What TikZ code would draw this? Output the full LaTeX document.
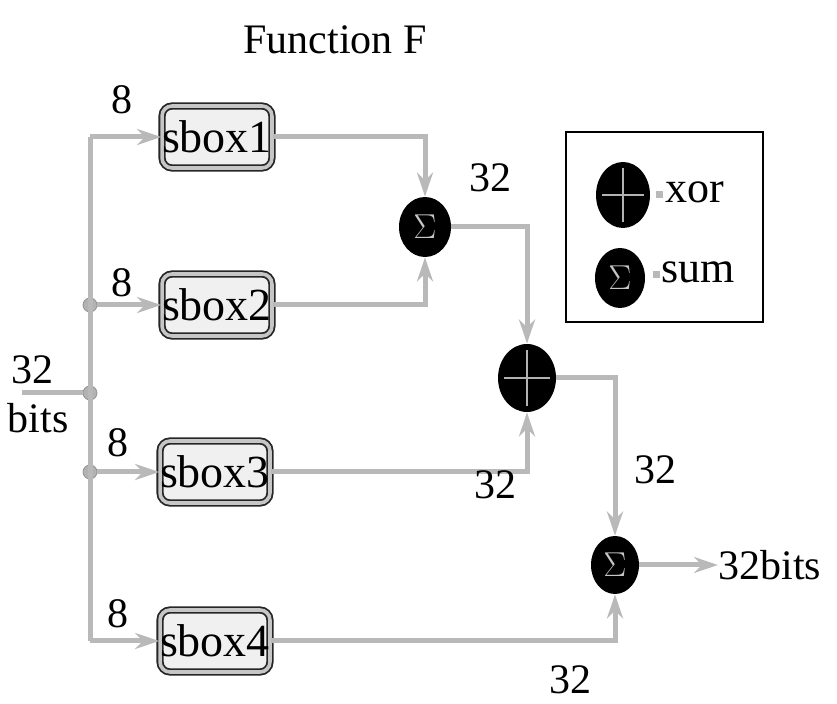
\documentclass[tikz,border=0pt]{standalone}
\usepackage{fontspec}
\setmainfont{Liberation Serif}
\usetikzlibrary{arrows.meta, positioning, shapes.geometric}

\begin{document}
\begin{tikzpicture}[
    x=0.5pt, y=-0.5pt,
    every node/.style={font=\fontsize{21}{25}\selectfont, inner sep=0pt},
    box/.style={draw=black!85, double=gray!45, double distance=1.8pt, line width=0.9pt, rounded corners=5pt, fill=gray!12, minimum width=50pt, minimum height=31pt, font=\fontsize{23}{27}\selectfont},
    wire/.style={draw=gray!55, line width=2.5pt},
    arrow/.style={wire, -{Stealth[length=12pt, width=8pt]}},
    junction/.style={circle, fill=gray!60, draw=gray!85, minimum size=7pt},
    sumop/.style={ellipse, fill=black, text=gray!45, font=\fontsize{16}{18}\selectfont},
    xorop/.style={ellipse, fill=black, path picture={
        \draw[gray!60, line width=1.4pt]
            ([yshift=-3pt]path picture bounding box.north) -- ([yshift=3pt]path picture bounding box.south)
            ([xshift=3pt]path picture bounding box.west) -- ([xshift=-3pt]path picture bounding box.east);}},
    tick/.style={rectangle, fill=gray!55, minimum size=3.5pt}
]
    \useasboundingbox (0,0) rectangle (837,704);
    \node (title) at (335,40) {Function F};

    % s-boxes
    \node[box] (s1) at (217,137) {sbox1};
    \node[box] (s2) at (217,305) {sbox2};
    \node[box] (s3) at (215,472) {sbox3};
    \node[box] (s4) at (215,641) {sbox4};

    % operators
    \node[sumop, minimum width=26pt, minimum height=30pt] (sum1) at (425,227) {$\Sigma$};
    \node[xorop, minimum width=29pt, minimum height=34pt] (xor1) at (527,378) {};
    \node[sumop, minimum width=24pt, minimum height=29pt] (sum2) at (615,565) {$\Sigma$};

    % input bus
    \coordinate (bustop) at (90,137);
    \coordinate (busbot) at (90,641);
    \coordinate (inp) at (22,393);
    \node[junction] (j2) at (90,305) {};
    \node[junction] (j0) at (90,393) {};
    \node[junction] (j3) at (90,472) {};
    \draw[wire] (bustop) -- (busbot);
    \draw[wire] (inp) -- (j0);
    \draw[arrow] (bustop) -- (s1.west);
    \draw[arrow] (j2) -- (s2.west);
    \draw[arrow] (j3) -- (s3.west);
    \draw[arrow] (busbot) -- (s4.west);

    % combining
    \draw[arrow] (s1.east) -| (sum1.north);
    \draw[arrow] (s2.east) -| (sum1.south);
    \draw[arrow] (sum1.east) -| (xor1.north);
    \draw[arrow] (s3.east) -| (xor1.south);
    \draw[arrow] (xor1.east) -| (sum2.north);
    \draw[arrow] (s4.east) -| (sum2.south);

    % output
    \node[anchor=west] (outlbl) at (718,565) {32bits};
    \draw[arrow] (sum2.east) -- (outlbl.west);

    % widths
    \node (w1) at (122,100) {8};
    \node (w2) at (122,283) {8};
    \node (w3) at (118,443) {8};
    \node (w4) at (118,614) {8};
    \node (win) at (32,370) {32};
    \node (winb) at (38,418) {bits};
    \node (w5) at (490,178) {32};
    \node (w6) at (495,485) {32};
    \node (w7) at (655,470) {32};
    \node (w8) at (570,680) {32};

    % legend
    \node[draw, line width=0.8pt, minimum width=98.5pt, minimum height=95pt] (legend) at (664.5,227) {};
    \node[xorop, minimum width=27pt, minimum height=33pt] (lxor) at (623,195) {};
    \node[tick] (tx) at (659,195) {};
    \node[anchor=west, font=\fontsize{22}{26}\selectfont] (txor) at (665,192) {xor};
    \node[sumop, minimum width=25pt, minimum height=30pt] (lsum) at (620,278) {$\Sigma$};
    \node[tick] (ts) at (656,275) {};
    \node[anchor=west, font=\fontsize{22}{26}\selectfont] (tsum) at (661,272) {sum};
\end{tikzpicture}
\end{document}
